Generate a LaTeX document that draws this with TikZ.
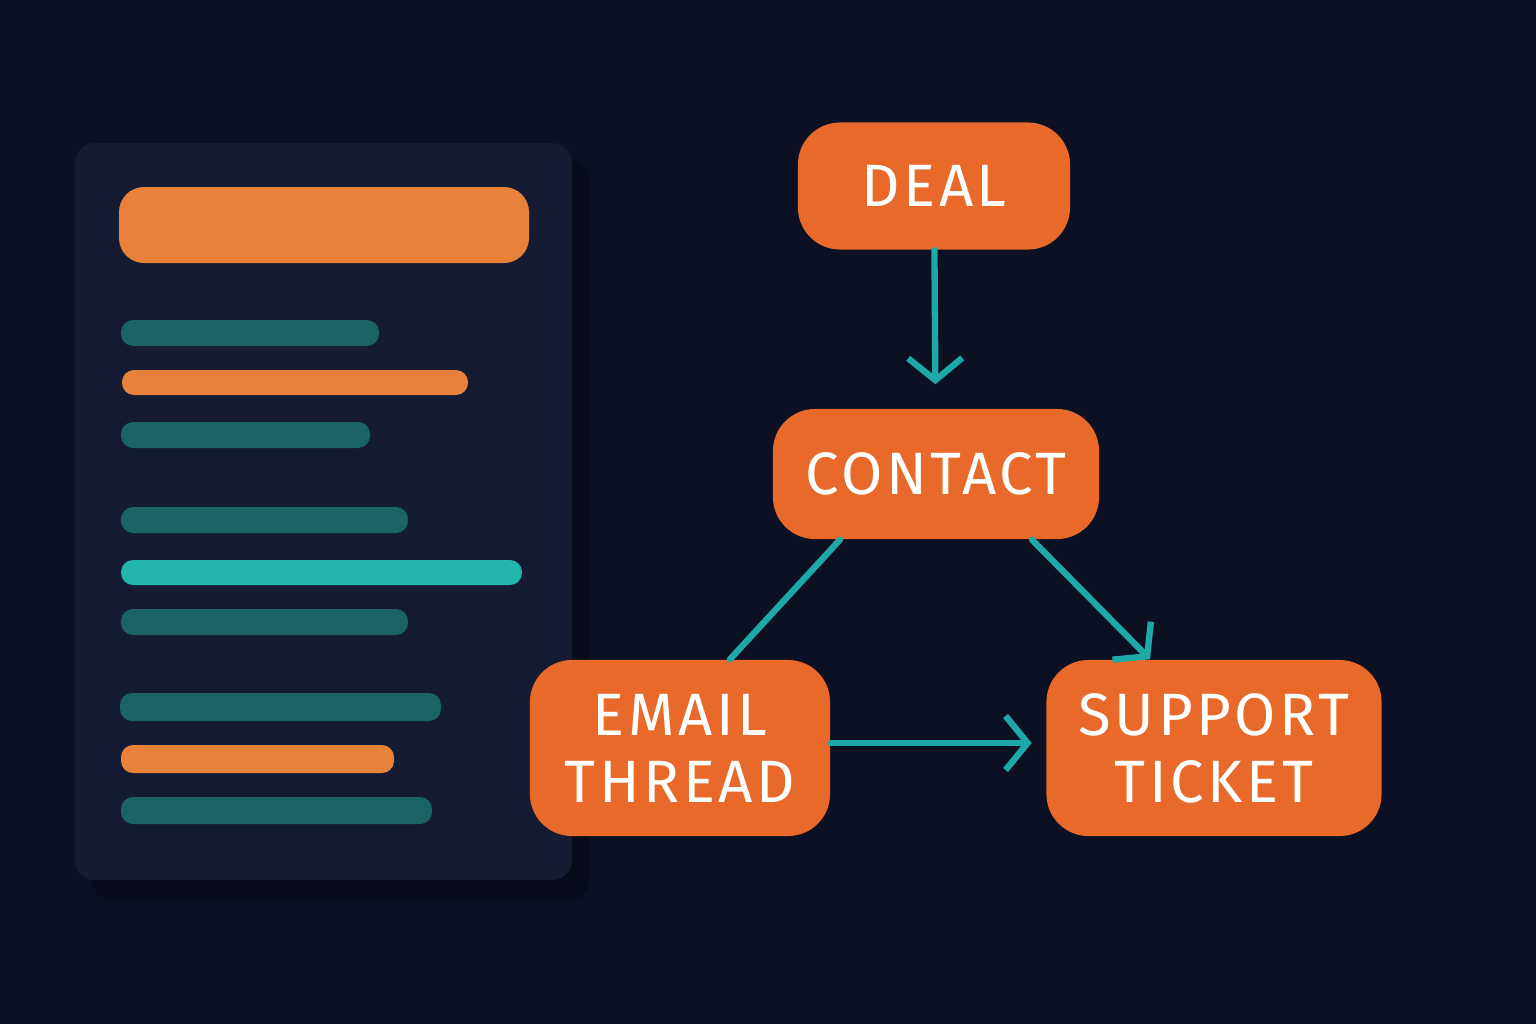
\documentclass[tikz,border=0pt]{standalone}
\usepackage{fontspec}
\setmainfont[LetterSpace=6]{Fira Sans}
\usetikzlibrary{arrows.meta}
\definecolor{bgdark}{HTML}{0B1022}
\definecolor{panel}{HTML}{141B33}
\definecolor{panelshadow}{HTML}{080C1A}
\definecolor{barorange}{HTML}{E8823A}
\definecolor{tealdark}{HTML}{1A6467}
\definecolor{tealbright}{HTML}{22B5AE}
\definecolor{nodeorange}{HTML}{E8692A}
\definecolor{arrowteal}{HTML}{1FA8A8}
\tikzset{
  entity/.style={fill=nodeorange,rounded corners=0.42cm,text=white,align=center,
    font=\fontsize{17}{19}\selectfont\mdseries,inner sep=0pt},
  link/.style={draw=arrowteal,line width=1.8pt},
  linkarrow/.style={link,-{Straight Barb[length=2.2mm,width=5.4mm,line width=1.8pt]}},
  bar/.style={rounded corners=0.12cm}
}
\begin{document}
\begin{tikzpicture}[x=0.01cm,y=-0.01cm,line join=round,line cap=round]
    \fill[bgdark] (0,0) rectangle (1536,1024);
    \useasboundingbox (0,0) rectangle (1536,1024);

    % Document panel
    \fill[panelshadow,rounded corners=0.2cm] (92,160) rectangle (589,900);
    \fill[panel,rounded corners=0.2cm] (75,143) rectangle (572,880);
    \fill[barorange,rounded corners=0.25cm] (119,187) rectangle (529,263);

    % Text lines
    \foreach \xa/\ya/\xb/\yb/\col in {121/320/379/346/tealdark, 122/370/468/395/barorange,
        121/422/370/448/tealdark, 121/507/408/533/tealdark, 121/560/522/585/tealbright,
        121/609/408/635/tealdark, 120/693/441/721/tealdark, 121/745/394/773/barorange,
        121/797/432/824/tealdark}
      \fill[\col,bar] (\xa,\ya) rectangle (\xb,\yb);

    % Entities
    \node[entity,minimum width=2.72cm,minimum height=1.27cm] (deal) at (934,186) {DEAL};
    \node[entity,minimum width=3.26cm,minimum height=1.3cm] (contact) at (936,474) {CONTACT};
    \node[entity,minimum width=3.0cm,minimum height=1.76cm] (email) at (680,748) {EMAIL\\THREAD};
    \node[entity,minimum width=3.35cm,minimum height=1.76cm] (ticket) at (1214,748) {SUPPORT\\TICKET};

    % Links
    \coordinate (cl) at (contact.south -| 840,0);
    \coordinate (cr) at (contact.south -| 1032,0);
    \coordinate (el) at (email.north -| 730,0);
    \coordinate (tt) at (ticket.north -| 1150,0);
    \coordinate (er) at (email.east |- 0,743);
    \coordinate (tl) at (ticket.west |- 0,743);
    \draw[linkarrow,shorten >=0.24cm] (deal) -- (contact);
    \draw[link] (cl) -- (el);
    \draw[linkarrow] (cr) -- (tt);
    \draw[linkarrow,shorten >=0.14cm] (er) -- (tl);
\end{tikzpicture}
\end{document}
